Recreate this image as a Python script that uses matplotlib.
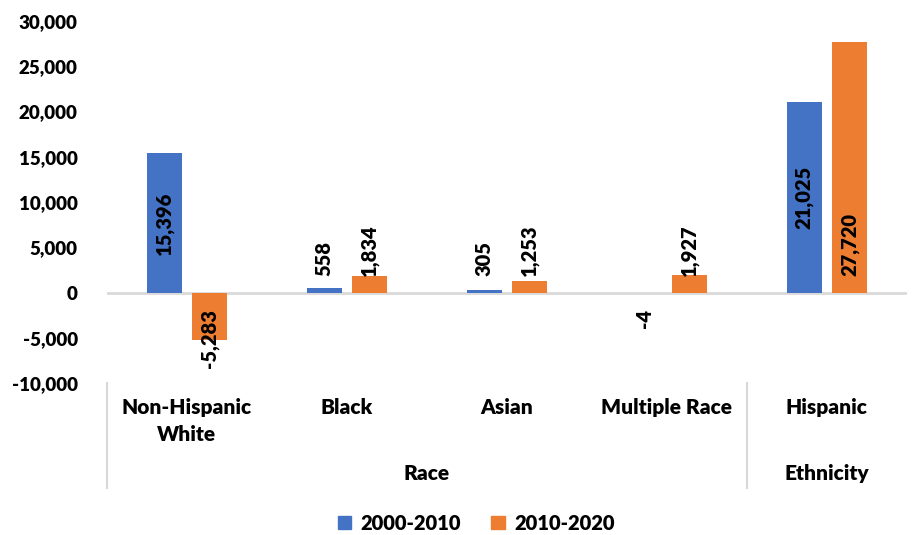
import matplotlib.pyplot as plt
import matplotlib.transforms as mtransforms
from matplotlib.ticker import FuncFormatter, MultipleLocator
from matplotlib.patches import Patch
import numpy as np

plt.rcParams['font.family'] = ['Lato', 'DejaVu Sans']
plt.rcParams['font.weight'] = 'heavy'

# data
categories = ["Non-Hispanic\nWhite", "Black", "Asian", "Multiple Race", "Hispanic"]
groups = ["Race", "Ethnicity"]
group_spans = [(0, 3), (4, 4)]
series_names = ["2000-2010", "2010-2020"]
change_2000_2010 = [15396, 558, 305, -4, 21025]
change_2010_2020 = [-5283, 1834, 1253, 1927, 27720]

# where each label sits (Excel style): "center" of bar or near the base line
label_pos_1 = ["center", "base", "base", "base", "center"]
label_pos_2 = ["base", "base", "base", "base", "base"]

blue = "#4472C4"
orange = "#ED7D31"
grid_grey = "#D9D9D9"
fs = 13.5
fs_cat = 15
fs_lab = 14.5

fig = plt.figure(figsize=(9.16, 5.35), dpi=100)
ax = fig.add_axes([0.1168, 0.284, 0.8732, 0.6766])

x = np.arange(len(categories))
w = 0.22
off = 0.142
b1 = ax.bar(x - off, change_2000_2010, w, color=blue, zorder=2)
b2 = ax.bar(x + off, change_2010_2020, w, color=orange, zorder=2)

ax.set_xlim(-0.5, len(categories) - 0.5)
ax.set_ylim(-10000, 30000)
ax.yaxis.set_major_locator(MultipleLocator(5000))
ax.yaxis.set_major_formatter(FuncFormatter(lambda v, p: f"{v:,.0f}"))
ax.tick_params(axis='y', length=0, pad=21, labelsize=fs)
ax.axhline(0, color=grid_grey, lw=2, zorder=1)
for s in ax.spines.values():
    s.set_visible(False)

# category labels
ax.set_xticks(x)
ax.set_xticklabels(categories, fontsize=fs_cat, linespacing=1.45, va='top')
ax.tick_params(axis='x', length=0, pad=11)

trans = mtransforms.blended_transform_factory(ax.transData, ax.transAxes)
for name, (a, b) in zip(groups, group_spans):
    ax.text((a + b) / 2, -0.249, name, transform=trans, ha='center', va='center', fontsize=fs_cat)
for sep in [-0.5, 3.5]:
    ax.plot([sep, sep], [0, -0.29], transform=trans, color=grid_grey, lw=1.5, clip_on=False)

# data labels
def add_labels(bars, values, modes):
    for bar, v, m in zip(bars, values, modes):
        cx = bar.get_x() + bar.get_width() / 2
        txt = f"{v:,}"
        if m == "center":
            ax.text(cx, v / 2, txt, rotation=90, ha='center', va='center', fontsize=fs_lab, zorder=3)
        elif v >= 0:
            ax.annotate(txt, (cx, 0), xytext=(0, 12), textcoords='offset points',
                        rotation=90, ha='center', va='bottom', fontsize=fs_lab, zorder=3)
        else:
            ax.annotate(txt, (cx, 0), xytext=(0, -12), textcoords='offset points',
                        rotation=90, ha='center', va='top', fontsize=fs_lab, zorder=3)

add_labels(b1, change_2000_2010, label_pos_1)
add_labels(b2, change_2010_2020, label_pos_2)

handles = [Patch(color=blue), Patch(color=orange)]
fig.legend(handles, series_names, loc='center', bbox_to_anchor=(0.52, 0.022), ncol=2,
           frameon=False, fontsize=14.5, handlelength=0.65, handleheight=0.65,
           handletextpad=0.5, columnspacing=1.5)

fig.savefig("out.png", dpi=100)
